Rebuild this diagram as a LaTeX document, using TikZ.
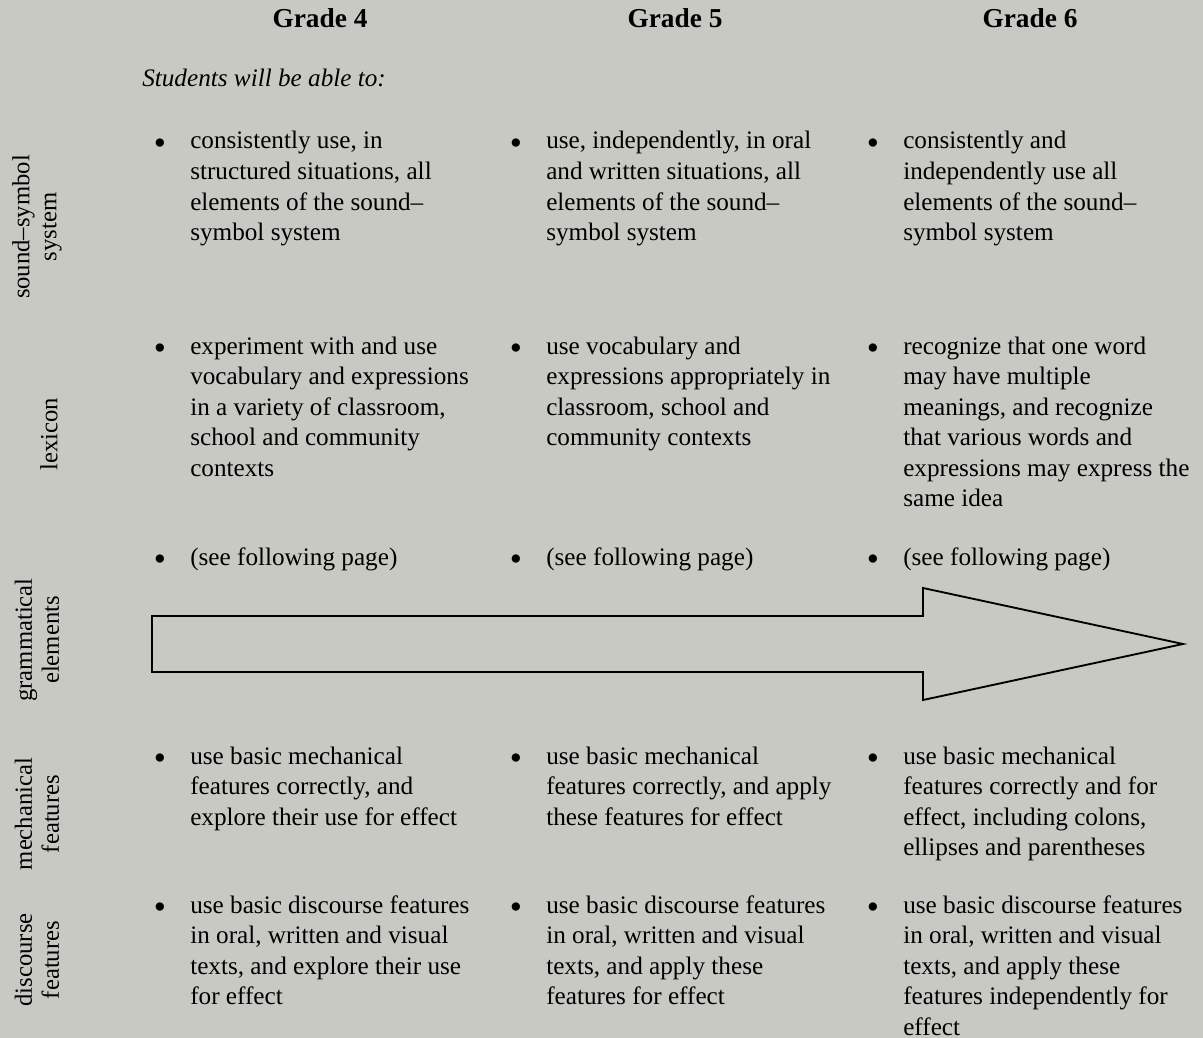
\documentclass[tikz,border=0pt]{standalone}
\usepackage{fontspec}
\setmainfont{Liberation Serif}
\definecolor{pagegrey}{RGB}{200,201,195}
\newcommand\celllines[1]{\begin{tabular}[t]{@{}l@{}}#1\end{tabular}}

\begin{document}
\begin{tikzpicture}[x=0.75pt,y=-0.75pt,
    every node/.style={inner sep=0pt,font=\fontsize{18.9}{22.9}\selectfont},
    item/.style={anchor=base west},
    dot/.style={anchor=base,yshift=-4pt,font=\fontsize{26}{26}\selectfont},
    grade/.style={anchor=base,font=\fontsize{20.5}{24}\selectfont\bfseries},
    rowlabel/.style={rotate=90,align=center,font=\fontsize{18.5}{20.3}\selectfont}]
  \fill[pagegrey] (0,0) rectangle (1203,1038);
  \useasboundingbox (0,0) rectangle (1203,1038);
  \node[grade] (g4) at (320,28) {Grade 4};
  \node[grade] (g5) at (675,28) {Grade 5};
  \node[grade] (g6) at (1030,28) {Grade 6};
  \node[item] (intro) at (142,87) {\itshape Students will be able to:};
  \node[rowlabel] (lsound) at (37,227) {sound–symbol\\system};
  \node[rowlabel] (llex) at (49,434) {lexicon};
  \node[rowlabel] (lgram) at (37,640) {grammatical\\elements};
  \node[rowlabel] (lmech) at (37,814) {mechanical\\features};
  \node[rowlabel] (ldisc) at (37,960) {discourse\\features};
  \foreach \c/\x in {4/160,5/516,6/873}
    \foreach \r/\y in {1/149,2/354,3/565,4/764,5/913}
      \node[dot] (b\c\r) at (\x,\y) {\textbullet};
  \node[item] (s4) at (190,149) {\celllines{consistently use, in\\structured situations, all\\elements of the sound–\\symbol system}};
  \node[item] (s5) at (546,149) {\celllines{use, independently, in oral\\and written situations, all\\elements of the sound–\\symbol system}};
  \node[item] (s6) at (903,149) {\celllines{consistently and\\independently use all\\elements of the sound–\\symbol system}};
  \node[item] (x4) at (190,354) {\celllines{experiment with and use\\vocabulary and expressions\\in a variety of classroom,\\school and community\\contexts}};
  \node[item] (x5) at (546,354) {\celllines{use vocabulary and\\expressions appropriately in\\classroom, school and\\community contexts}};
  \node[item] (x6) at (903,354) {\celllines{recognize that one word\\may have multiple\\meanings, and recognize\\that various words and\\expressions may express the\\same idea}};
  \node[item] (e4) at (190,565) {(see following page)};
  \node[item] (e5) at (546,565) {(see following page)};
  \node[item] (e6) at (903,565) {(see following page)};
  \draw[line width=1.4pt] (152,616) -- (923,616) -- (923,588) -- (1183,644)
    -- (923,700) -- (923,672) -- (152,672) -- cycle;
  \node[item] (m4) at (190,764) {\celllines{use basic mechanical\\features correctly, and\\explore their use for effect}};
  \node[item] (m5) at (546,764) {\celllines{use basic mechanical\\features correctly, and apply\\these features for effect}};
  \node[item] (m6) at (903,764) {\celllines{use basic mechanical\\features correctly and for\\effect, including colons,\\ellipses and parentheses}};
  \node[item] (d4) at (190,913) {\celllines{use basic discourse features\\in oral, written and visual\\texts, and explore their use\\for effect}};
  \node[item] (d5) at (546,913) {\celllines{use basic discourse features\\in oral, written and visual\\texts, and apply these\\features for effect}};
  \node[item] (d6) at (903,913) {\celllines{use basic discourse features\\in oral, written and visual\\texts, and apply these\\features independently for\\effect}};
\end{tikzpicture}
\end{document}
